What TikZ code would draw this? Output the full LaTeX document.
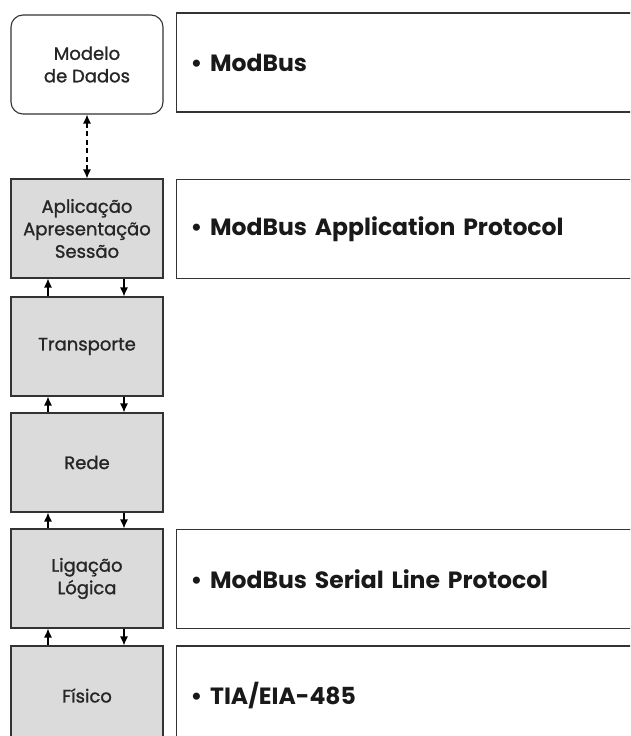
\documentclass[tikz,border=0pt]{standalone}
\usepackage{fontspec}
\setmainfont{Poppins}
\newfontfamily\layerfont[FakeBold=1.2]{Poppins}
\usepackage{tikz}
\usetikzlibrary{positioning, arrows.meta}

\tikzset{
    layer/.style={draw=black!80, line width=1.1pt, fill=black!14, minimum width=152pt, minimum height=99pt, align=center, font=\layerfont\fontsize{18}{22.5}\selectfont, text=black!85},
    model/.style={layer, fill=white, rounded corners=12pt},
    proto/.style={draw=black!80, line width=1.1pt, fill=white, anchor=west, minimum height=99pt, text width=500pt, inner xsep=14pt, align=left, font=\bfseries\fontsize{23.5}{28}\selectfont, text=black!90},
    link/.style={-{Latex[length=9pt, width=8pt]}, line width=1.3pt},
}

\begin{document}
\begin{tikzpicture}[x=1pt, y=-1pt]
        \useasboundingbox (0,0) rectangle (630,736);
        \clip (0,0) rectangle (630,736);

        \node[model] (dados) at (87,64.5) {Modelo\\de Dados};
        \node[layer] (aplic) at (87,228.5) {Aplicação\\Apresentação\\Sessão};
        \node[layer] (transp) at (87,346.5) {Transporte};
        \node[layer] (rede) at (87,462.5) {Rede};
        \node[layer] (lig) at (87,578.5) {Ligação\\Lógica};
        \node[layer] (fis) at (87,695.5) {Físico};

        \node[proto] (pmodbus) at (176,62.5) {• ModBus};
        \node[proto] (papp) at (176,229) {• ModBus Application Protocol};
        \node[proto] (pserial) at (176,579) {• ModBus Serial Line Protocol};
        \node[proto] (ptia) at (176,695.5) {• TIA/EIA-485};

        \draw[link, {Latex[length=9pt, width=8pt]}-{Latex[length=9pt, width=8pt]}, dash pattern=on 5pt off 3.5pt] (dados) -- (aplic);
        \foreach \up/\down in {transp/aplic, rede/transp, lig/rede, fis/lig} {
            \draw[link] ([xshift=-39pt]\up.north) -- ([xshift=-39pt]\down.south);
            \draw[link] ([xshift=37pt]\down.south) -- ([xshift=37pt]\up.north);
        }
    \end{tikzpicture}
\end{document}
